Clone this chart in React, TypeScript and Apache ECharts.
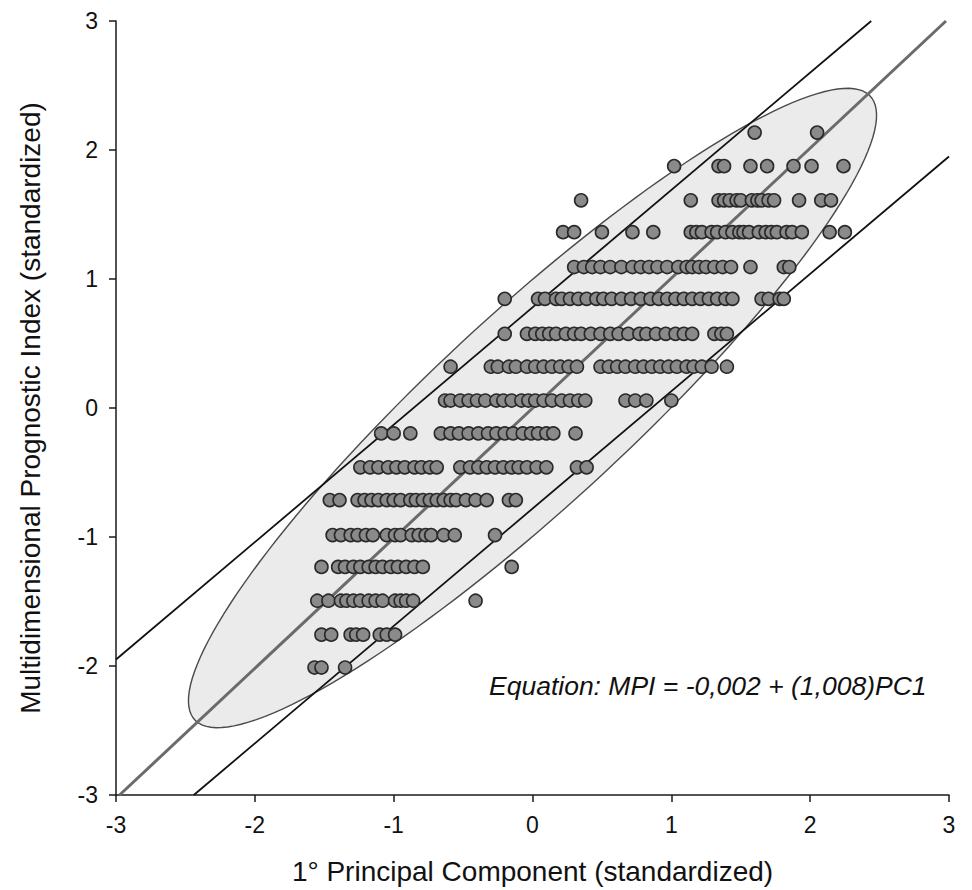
import React, { useEffect, useRef } from "react";
import * as echarts from "echarts";

// ---- Data ----
// MPI (standardized) levels, one row of points per level
const mpiLevels = [
  2.135, 1.875, 1.61, 1.363, 1.093, 0.846, 0.575, 0.32, 0.058, -0.197, -0.46,
  -0.714, -0.985, -1.232, -1.494, -1.757, -2.012,
];

// PC1 (standardized) values of the points on each level (same order as mpiLevels)
const pc1Row0 = [1.6, 2.05];
const pc1Row1 = [1.02, 1.34, 1.38, 1.57, 1.69, 1.88, 2.01, 2.24];
const pc1Row2 = [0.35, 1.14, 1.34, 1.38, 1.42, 1.47, 1.5, 1.58, 1.62, 1.65, 1.7, 1.74, 1.92, 2.08, 2.15];
const pc1Row3 = [0.22, 0.3, 0.5, 0.72, 0.87, 1.14, 1.18, 1.22, 1.29, 1.33, 1.39, 1.44, 1.49, 1.52, 1.56, 1.63, 1.68, 1.72, 1.76, 1.83, 1.87, 1.94, 2.14, 2.25];
const pc1Row4 = [0.3, 0.37, 0.43, 0.49, 0.56, 0.64, 0.72, 0.78, 0.84, 0.9, 0.97, 1.05, 1.11, 1.15, 1.2, 1.25, 1.31, 1.37, 1.43, 1.57, 1.81, 1.85];
const pc1Row5 = [-0.2, 0.04, 0.09, 0.17, 0.21, 0.27, 0.33, 0.39, 0.46, 0.51, 0.57, 0.64, 0.71, 0.78, 0.85, 0.91, 0.97, 1.03, 1.09, 1.15, 1.21, 1.27, 1.33, 1.39, 1.44, 1.65, 1.7, 1.78, 1.81];
const pc1Row6 = [-0.2, -0.04, 0.02, 0.07, 0.12, 0.17, 0.24, 0.3, 0.35, 0.42, 0.49, 0.56, 0.62, 0.69, 0.77, 0.82, 0.89, 0.96, 1.03, 1.09, 1.15, 1.31, 1.36, 1.4];
const pc1Row7 = [-0.59, -0.3, -0.25, -0.17, -0.12, -0.04, 0.02, 0.08, 0.14, 0.2, 0.26, 0.32, 0.49, 0.55, 0.61, 0.67, 0.74, 0.8, 0.86, 0.92, 0.98, 1.04, 1.11, 1.16, 1.22, 1.29, 1.4];
const pc1Row8 = [-0.63, -0.59, -0.52, -0.46, -0.4, -0.34, -0.26, -0.21, -0.15, -0.08, -0.03, 0.02, 0.08, 0.14, 0.21, 0.27, 0.33, 0.38, 0.67, 0.74, 0.82, 1.0];
const pc1Row9 = [-1.09, -1.0, -0.88, -0.66, -0.59, -0.53, -0.46, -0.39, -0.32, -0.26, -0.2, -0.14, -0.07, -0.01, 0.04, 0.1, 0.15, 0.31];
const pc1Row10 = [-1.24, -1.17, -1.11, -1.04, -0.98, -0.92, -0.85, -0.8, -0.74, -0.69, -0.52, -0.45, -0.39, -0.33, -0.27, -0.21, -0.15, -0.1, -0.04, 0.03, 0.1, 0.32, 0.39];
const pc1Row11 = [-1.46, -1.39, -1.26, -1.21, -1.16, -1.11, -1.05, -1.0, -0.95, -0.88, -0.84, -0.79, -0.74, -0.69, -0.64, -0.59, -0.55, -0.48, -0.41, -0.33, -0.17, -0.12];
const pc1Row12 = [-1.44, -1.38, -1.31, -1.26, -1.2, -1.15, -1.05, -0.99, -0.95, -0.87, -0.82, -0.77, -0.73, -0.64, -0.56, -0.27];
const pc1Row13 = [-1.52, -1.4, -1.35, -1.29, -1.24, -1.18, -1.13, -1.08, -1.02, -0.97, -0.91, -0.85, -0.79, -0.15];
const pc1Row14 = [-1.55, -1.47, -1.38, -1.34, -1.29, -1.24, -1.18, -1.13, -1.08, -0.99, -0.95, -0.91, -0.86, -0.41];
const pc1Row15 = [-1.52, -1.45, -1.31, -1.27, -1.22, -1.1, -1.05, -0.99];
const pc1Row16 = [-1.57, -1.52, -1.35];

const pc1ByLevel = [
  pc1Row0, pc1Row1, pc1Row2, pc1Row3, pc1Row4, pc1Row5, pc1Row6, pc1Row7, pc1Row8,
  pc1Row9, pc1Row10, pc1Row11, pc1Row12, pc1Row13, pc1Row14, pc1Row15, pc1Row16,
];

// Regression line and band lines
const regIntercept = -0.002;
const regSlope = 1.008;
const bandSlope = 0.91;
const bandOffset = 0.78;

// Confidence ellipse (data units)
const ellipseCenter = [0, 0];
const ellipseSemiMajor = 3.43;
const ellipseSemiMinor = 0.72;
const ellipseAngleDeg = 45;

const axisMin = -3;
const axisMax = 3;
const axisStep = 1;

const xTitle = "1° Principal Component (standardized)";
const yTitle = "Multidimensional Prognostic Index (standardized)";
const equationText = "Equation: MPI = -0,002 + (1,008)PC1";

const FONT = '"Liberation Sans", Arial, sans-serif';

function clippedLine(slope: number, intercept: number) {
  const x0 = Math.max(axisMin, (axisMin - intercept) / slope);
  const x1 = Math.min(axisMax, (axisMax - intercept) / slope);
  return [
    [x0, intercept + slope * x0],
    [x1, intercept + slope * x1],
  ];
}

export default function App() {
  const ref = useRef<HTMLDivElement>(null);

  useEffect(() => {
    if (!ref.current) return;
    const chart = echarts.init(ref.current, undefined, { renderer: "svg" });

    const points: number[][] = [];
    mpiLevels.forEach((y, i) => {
      pc1ByLevel[i].forEach((x) => points.push([x, y]));
    });

    const axisCommon = {
      type: "value",
      min: axisMin,
      max: axisMax,
      interval: axisStep,
      nameLocation: "middle",
      nameTextStyle: { fontSize: 28, color: "#111", fontFamily: FONT },
      axisLine: { show: true, onZero: false, lineStyle: { color: "#1a1a1a", width: 1.5 } },
      axisTick: { show: true, inside: false, length: 7, lineStyle: { color: "#1a1a1a", width: 1.5 } },
      axisLabel: { fontSize: 23, color: "#111", fontFamily: FONT, margin: 18 },
      splitLine: { show: false },
    };

    const option: any = {
      animation: false,
      backgroundColor: "#ffffff",
      grid: { left: 116, right: 23, top: 21, bottom: 92, containLabel: false },
      xAxis: { ...axisCommon, name: xTitle, nameGap: 62 },
      yAxis: { ...axisCommon, name: yTitle, nameGap: 72 },
      graphic: [
        {
          type: "text",
          left: 489,
          top: 672,
          z: 100,
          style: {
            text: equationText,
            fontSize: 26.5,
            fontStyle: "italic",
            fontFamily: FONT,
            fill: "#111",
          },
        },
      ],
      series: [
        {
          type: "custom",
          silent: true,
          z: 1,
          data: [[ellipseCenter[0], ellipseCenter[1]]],
          renderItem: (_params: any, api: any) => {
            const th = (ellipseAngleDeg * Math.PI) / 180;
            const pts: number[][] = [];
            const n = 160;
            for (let i = 0; i <= n; i++) {
              const t = (i / n) * Math.PI * 2;
              const u = ellipseSemiMajor * Math.cos(t);
              const v = ellipseSemiMinor * Math.sin(t);
              const x = ellipseCenter[0] + u * Math.cos(th) - v * Math.sin(th);
              const y = ellipseCenter[1] + u * Math.sin(th) + v * Math.cos(th);
              pts.push(api.coord([x, y]));
            }
            return {
              type: "polygon",
              shape: { points: pts },
              style: { fill: "#ebebeb", stroke: "#4a4a4a", lineWidth: 1.4 },
            };
          },
        },
        {
          type: "line",
          z: 2,
          silent: true,
          symbol: "none",
          data: clippedLine(bandSlope, bandOffset),
          lineStyle: { color: "#111", width: 1.8 },
        },
        {
          type: "line",
          z: 2,
          silent: true,
          symbol: "none",
          data: clippedLine(bandSlope, -bandOffset),
          lineStyle: { color: "#111", width: 1.8 },
        },
        {
          type: "line",
          z: 2,
          silent: true,
          symbol: "none",
          data: clippedLine(regSlope, regIntercept),
          lineStyle: { color: "#6b6b6b", width: 3 },
        },
        {
          type: "scatter",
          z: 3,
          symbol: "circle",
          symbolSize: 13,
          data: points,
          itemStyle: { color: "#8a8a8a", borderColor: "#2a2a2a", borderWidth: 1.6, opacity: 1 },
        },
      ],
    };

    chart.setOption(option);
    return () => chart.dispose();
  }, []);

  return (
    <div
      ref={ref}
      style={{ position: "fixed", left: 0, top: 0, width: 972, height: 890, background: "#fff" }}
    />
  );
}
